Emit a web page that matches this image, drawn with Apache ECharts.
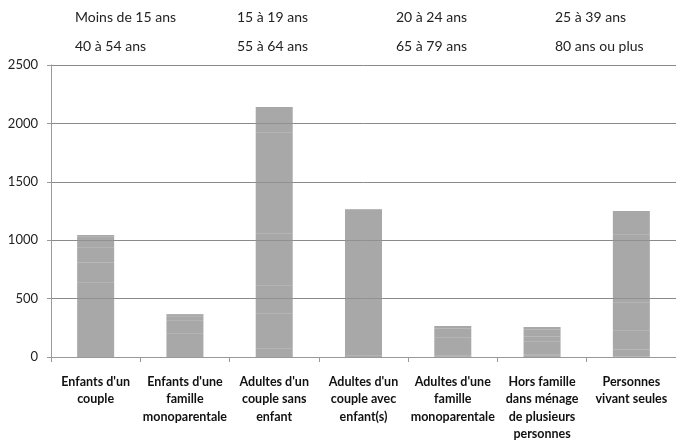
<!DOCTYPE html>
<html><head><meta charset="utf-8">
<script src="https://cdn.jsdelivr.net/npm/echarts@6/dist/echarts.min.js"></script>
<style>html,body{margin:0;padding:0;background:#fff}#c{width:676px;height:448px}</style>
</head><body><div id="c"></div>
<script>
var categories = ["Enfants d'un\ncouple", "Enfants d'une\nfamille\nmonoparentale", "Adultes d'un\ncouple sans\nenfant", "Adultes d'un\ncouple avec\nenfant(s)", "Adultes d'une\nfamille\nmonoparentale", "Hors famille\ndans ménage\nde plusieurs\npersonnes", "Personnes\nvivant seules"];
var ageGroups = ["Moins de 15 ans", "15 à 19 ans", "20 à 24 ans", "25 à 39 ans", "40 à 54 ans", "55 à 64 ans", "65 à 79 ans", "80 ans ou plus"];
var moins15 = [640, 200, 0, 0, 0, 10, 0];
var a15_19  = [170, 74, 0, 0, 2, 10, 5];
var a20_24  = [130, 40, 70, 15, 8, 40, 60];
var a25_39  = [90, 35, 300, 490, 50, 70, 160];
var a40_54  = [15, 17, 240, 685, 110, 45, 240];
var a55_64  = [0, 2, 450, 60, 45, 30, 255];
var a65_79  = [0, 0, 860, 12, 30, 30, 330];
var a80plus = [0, 0, 220, 5, 20, 22, 200];
var yTicks = [0, 500, 1000, 1500, 2000, 2500];

var seriesValues = [moins15, a15_19, a20_24, a25_39, a40_54, a55_64, a65_79, a80plus];
var font = "Lato, 'DejaVu Sans Condensed', sans-serif";
var legendX = [65, 227, 386, 545];
var legendY = [5, 34];
var legends = ageGroups.map(function (n, i) {
  return {
    data: [n], left: legendX[i % 4], top: legendY[Math.floor(i / 4)],
    itemWidth: 0, itemHeight: 0, itemGap: 0, selectedMode: false,
    itemStyle: { opacity: 0 },
    textStyle: { fontFamily: font, fontSize: 14, color: '#222' }
  };
});
var chart = echarts.init(document.getElementById('c'), null, { renderer: 'canvas' });
chart.setOption({
  animation: false,
  legend: legends,
  grid: { left: 51, right: -5, top: 65, bottom: 91, containLabel: false },
  xAxis: {
    type: 'category', data: categories,
    axisLine: { lineStyle: { color: '#999', width: 1 } },
    axisTick: { show: true, length: 5, lineStyle: { color: '#999' } },
    axisLabel: { interval: 0, margin: 16, fontFamily: font, fontWeight: 'bold', fontSize: 12.5, color: '#111', lineHeight: 17.5 }
  },
  yAxis: {
    type: 'value', min: yTicks[0], max: yTicks[yTicks.length - 1], interval: 500,
    axisLine: { show: true, lineStyle: { color: '#999' } },
    axisTick: { show: true, length: 4, lineStyle: { color: '#999' } },
    splitLine: { lineStyle: { color: '#8a8a8a', width: 1 } },
    axisLabel: { margin: 13, fontFamily: font, fontSize: 13, color: '#222', formatter: function (v) { return String(v); } }
  },
  series: seriesValues.map(function (v, i) {
    return {
      name: ageGroups[i], type: 'bar', stack: 'total', data: v, barWidth: 37,
      itemStyle: { color: '#929292', opacity: 0.8 }
    };
  })
});
</script></body></html>
